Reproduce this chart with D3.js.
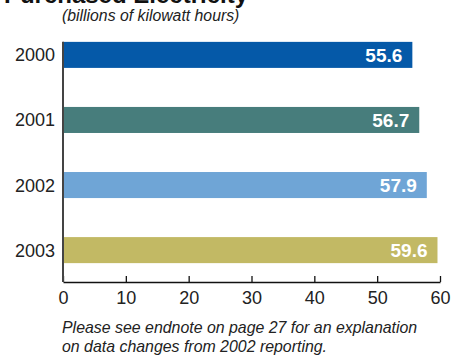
<!DOCTYPE html>
<html>
<head>
<meta charset="utf-8">
<script src="https://cdn.jsdelivr.net/npm/d3@7"></script>
<style>
  body { margin: 0; background: #fff; }
  svg { font-family: "Liberation Sans", Arial, Helvetica, sans-serif; }
</style>
</head>
<body>
<svg id="chart" width="452" height="356"></svg>
<script>
// data
const years = ['2000', '2001', '2002', '2003'];
const values = [55.6, 56.7, 57.9, 59.6];
const barColors = ['#0559a8', '#477d7c', '#6fa5d6', '#c2b964'];
const xTicks = [0, 10, 20, 30, 40, 50, 60];

const svg = d3.select('#chart');
const plotLeft = 63, plotRight = 440, plotBottom = 282, plotTop = 23;

const x = d3.scaleLinear().domain([0, 60]).range([plotLeft, plotRight]);
const y = d3.scaleBand().domain(years).range([plotTop, plotBottom])
  .paddingInner(0.6).paddingOuter(0.29);

// title (cut off at the top in the original)
svg.append('text')
  .attr('x', 248).attr('y', 3)
  .attr('text-anchor', 'end')
  .attr('font-size', 24).attr('font-weight', 'bold').attr('fill', '#111')
  .text('Purchased Electricity');

svg.append('text')
  .attr('x', 62).attr('y', 21)
  .attr('font-size', 15.8).attr('font-style', 'italic').attr('fill', '#222')
  .text('(billions of kilowatt hours)');

const data = years.map((d, i) => ({ year: d, value: values[i], color: barColors[i] }));

svg.selectAll('rect.bar')
  .data(data)
  .enter().append('rect')
  .attr('class', 'bar')
  .attr('x', x(0))
  .attr('y', d => y(d.year))
  .attr('width', d => x(d.value) - x(0))
  .attr('height', y.bandwidth())
  .attr('fill', d => d.color);

svg.selectAll('text.val')
  .data(data)
  .enter().append('text')
  .attr('class', 'val')
  .attr('x', d => x(d.value) - 10)
  .attr('y', d => y(d.year) + y.bandwidth() / 2)
  .attr('dy', '0.36em')
  .attr('text-anchor', 'end')
  .attr('font-size', 19).attr('font-weight', 'bold').attr('fill', '#fff')
  .text(d => d.value.toFixed(1));

svg.selectAll('text.yr')
  .data(data)
  .enter().append('text')
  .attr('class', 'yr')
  .attr('x', 55)
  .attr('y', d => y(d.year) + y.bandwidth() / 2)
  .attr('dy', '0.36em')
  .attr('text-anchor', 'end')
  .attr('font-size', 18).attr('fill', '#222')
  .text(d => d.year);

// x axis, ticks pointing up
const xAxis = svg.append('g')
  .attr('transform', 'translate(0,' + plotBottom + ')')
  .call(d3.axisBottom(x).tickValues(xTicks).tickSizeInner(-6).tickSizeOuter(0).tickPadding(9));
xAxis.select('.domain').attr('stroke', '#111').attr('stroke-width', 1.5);
xAxis.selectAll('.tick line').attr('stroke', '#111').attr('stroke-width', 1.3);
xAxis.selectAll('.tick text')
  .attr('font-size', 18).attr('fill', '#222')
  .attr('font-family', '"Liberation Sans", Arial, sans-serif');

// vertical axis line
svg.append('line')
  .attr('x1', x(0)).attr('x2', x(0))
  .attr('y1', y(years[0])).attr('y2', plotBottom)
  .attr('stroke', '#444').attr('stroke-width', 2);

const note = svg.append('text')
  .attr('font-size', 15.9).attr('font-style', 'italic').attr('fill', '#222');
note.append('tspan').attr('x', 62).attr('y', 333)
  .text('Please see endnote on page 27 for an explanation');
note.append('tspan').attr('x', 62).attr('y', 352)
  .text('on data changes from 2002 reporting.');
</script>
</body>
</html>
